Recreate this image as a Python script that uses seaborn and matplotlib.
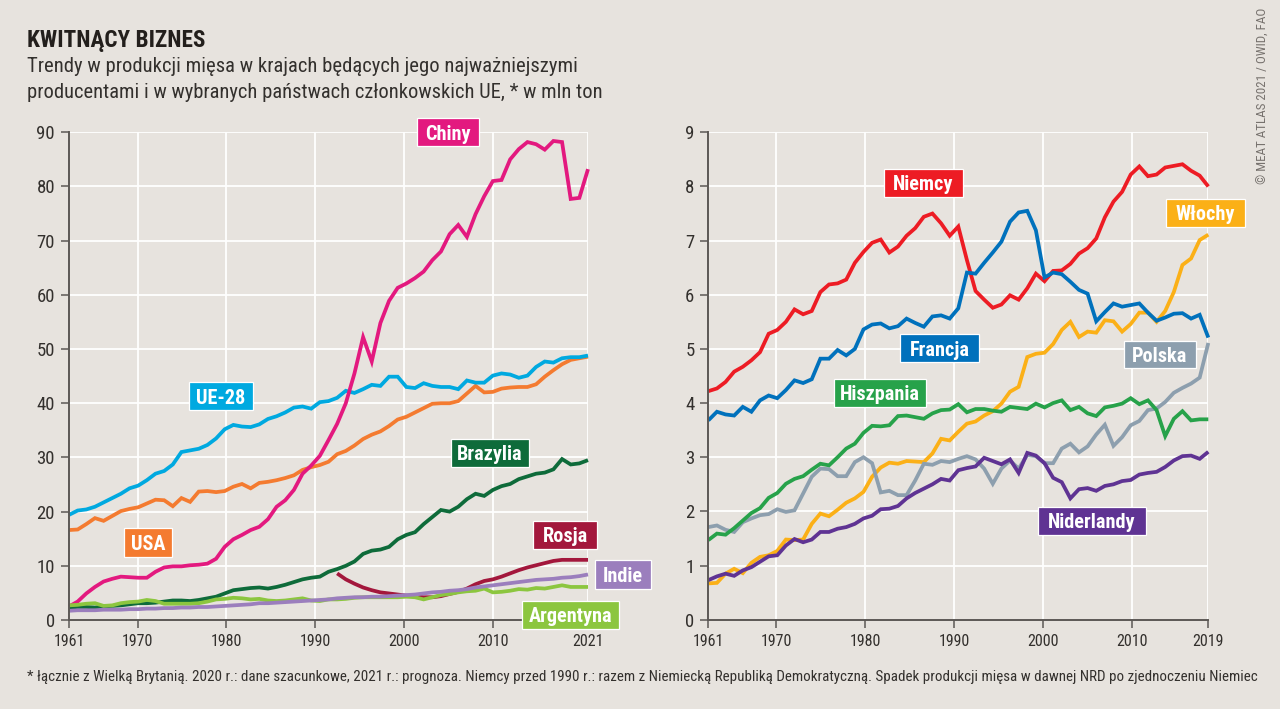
import numpy as np
import pandas as pd
import matplotlib
matplotlib.use("Agg")
import matplotlib.pyplot as plt
from matplotlib.patches import Rectangle
from matplotlib import font_manager as fm
import seaborn as sns

chiny = [2.5,3.4,4.9,6.1,7.1,7.6,8.0,7.9,7.8,7.8,8.9,9.7,9.9,9.9,10.1,10.2,10.4,11.3,13.5,14.9,15.7,16.6,17.2,18.6,20.9,22.1,24.0,27.0,28.5,30.3,33.2,36.2,40.0,45.5,52.2,47.7,54.8,58.9,61.3,62.1,63.1,64.3,66.4,68.0,71.2,72.9,70.7,74.9,78.2,81.0,81.2,85.0,86.9,88.2,87.8,86.8,88.4,88.2,77.7,77.9,83.2]
ue28 = [19.4,20.2,20.4,20.9,21.7,22.5,23.3,24.3,24.8,25.8,27.0,27.5,28.7,31.0,31.3,31.6,32.3,33.5,35.2,36.0,35.7,35.6,36.1,37.1,37.6,38.3,39.2,39.4,39.0,40.2,40.4,41.0,42.3,41.9,42.6,43.4,43.2,44.9,44.9,43.0,42.8,43.7,43.2,43.0,43.0,42.6,44.2,43.8,43.8,45.1,45.5,45.3,44.7,45.1,46.7,47.7,47.5,48.3,48.5,48.5,48.8]
usa = [16.6,16.7,17.7,18.8,18.3,19.2,20.1,20.5,20.8,21.5,22.2,22.1,21.0,22.5,21.8,23.7,23.8,23.6,23.8,24.6,25.1,24.3,25.3,25.5,25.8,26.2,26.7,27.7,28.2,28.6,29.2,30.6,31.2,32.2,33.4,34.2,34.8,35.8,37.0,37.5,38.3,39.1,39.9,40.0,40.0,40.4,41.8,43.2,42.0,42.1,42.7,42.9,43.0,43.0,43.5,44.9,46.1,47.2,48.0,48.3,48.6]
brazylia = [2.3,2.4,2.4,2.3,2.5,2.6,2.7,2.9,3.1,3.1,3.2,3.4,3.6,3.6,3.5,3.7,4.0,4.3,4.9,5.5,5.7,5.9,6.0,5.8,6.1,6.5,7.0,7.5,7.8,8.0,8.9,9.4,10.0,10.8,12.2,12.8,13.0,13.5,14.9,15.7,16.2,17.7,19.0,20.3,20.0,20.9,22.3,23.3,22.9,24.0,24.7,25.1,26.0,26.5,27.0,27.2,27.8,29.7,28.7,28.9,29.5]
rosja = [8.6,7.5,6.7,6.0,5.5,5.1,4.9,4.7,4.5,4.4,4.2,4.2,4.4,4.8,5.2,5.8,6.6,7.2,7.5,8.0,8.6,9.2,9.7,10.1,10.5,10.9,11.1,11.1,11.1,11.1]
indie = [1.7,1.8,1.8,1.8,1.9,1.9,1.9,2.0,2.0,2.1,2.1,2.2,2.2,2.3,2.3,2.4,2.4,2.5,2.6,2.7,2.8,2.9,3.1,3.1,3.2,3.3,3.4,3.5,3.6,3.7,3.8,4.0,4.1,4.2,4.2,4.3,4.3,4.4,4.5,4.6,4.7,4.9,5.1,5.2,5.4,5.5,5.7,6.0,6.2,6.4,6.6,6.8,7.0,7.2,7.4,7.5,7.6,7.8,7.9,8.1,8.4]
argentyna = [2.7,2.8,3.0,3.1,2.6,2.7,3.1,3.3,3.4,3.7,3.5,3.0,3.0,3.0,3.0,3.1,3.4,3.8,3.9,4.1,4.0,3.8,3.9,3.6,3.5,3.6,3.8,4.0,3.6,3.5,3.8,3.8,3.9,4.1,4.2,4.2,4.2,4.2,4.2,4.3,4.2,3.8,4.2,4.6,4.8,5.1,5.3,5.4,5.8,5.1,5.2,5.4,5.7,5.6,5.9,5.8,6.1,6.4,6.1,6.1,6.1]

niemcy = [4.22,4.27,4.39,4.58,4.67,4.79,4.94,5.28,5.35,5.5,5.73,5.64,5.7,6.05,6.19,6.21,6.28,6.59,6.79,6.96,7.02,6.78,6.89,7.09,7.23,7.44,7.5,7.32,7.09,7.26,6.64,6.07,5.91,5.76,5.82,5.99,5.91,6.12,6.39,6.25,6.44,6.45,6.57,6.76,6.86,7.04,7.43,7.72,7.9,8.22,8.37,8.19,8.22,8.35,8.38,8.41,8.29,8.2,8.0]
francja = [3.68,3.84,3.79,3.77,3.93,3.84,4.05,4.14,4.09,4.24,4.42,4.37,4.44,4.82,4.82,4.98,4.88,5.0,5.36,5.45,5.47,5.38,5.42,5.56,5.48,5.41,5.6,5.62,5.56,5.75,6.41,6.39,6.59,6.78,6.98,7.35,7.52,7.55,7.19,6.32,6.41,6.38,6.24,6.09,6.02,5.51,5.68,5.84,5.78,5.81,5.84,5.67,5.52,5.58,5.65,5.66,5.56,5.63,5.21]
wlochy = [0.67,0.68,0.85,0.94,0.86,1.05,1.16,1.19,1.27,1.48,1.47,1.48,1.77,1.96,1.91,2.03,2.16,2.24,2.36,2.64,2.81,2.9,2.88,2.93,2.92,2.91,3.07,3.34,3.31,3.47,3.62,3.66,3.77,3.85,3.99,4.21,4.3,4.85,4.91,4.93,5.09,5.35,5.5,5.22,5.32,5.3,5.53,5.51,5.32,5.46,5.67,5.67,5.5,5.7,6.05,6.55,6.67,7.01,7.11]
polska = [1.71,1.74,1.66,1.62,1.8,1.87,1.93,1.95,2.04,1.99,2.02,2.33,2.64,2.79,2.78,2.65,2.65,2.91,3.0,2.89,2.35,2.38,2.3,2.3,2.57,2.88,2.86,2.93,2.91,2.97,3.02,2.96,2.79,2.51,2.79,2.94,2.79,3.04,3.02,2.89,2.89,3.16,3.25,3.09,3.2,3.42,3.6,3.21,3.37,3.59,3.67,3.87,3.9,4.02,4.19,4.28,4.36,4.47,5.11]
hiszpania = [1.47,1.59,1.57,1.69,1.83,1.97,2.06,2.25,2.34,2.51,2.6,2.65,2.77,2.88,2.85,3.0,3.16,3.25,3.45,3.58,3.57,3.59,3.76,3.77,3.74,3.71,3.81,3.87,3.88,3.98,3.83,3.89,3.89,3.86,3.84,3.93,3.91,3.89,3.99,3.92,4.0,4.05,3.87,3.93,3.81,3.76,3.92,3.95,3.99,4.09,3.98,4.05,3.87,3.39,3.71,3.85,3.68,3.7,3.7]
niderlandy = [0.73,0.8,0.85,0.81,0.91,0.97,1.07,1.17,1.19,1.37,1.49,1.43,1.48,1.62,1.62,1.68,1.71,1.77,1.87,1.92,2.04,2.05,2.1,2.24,2.34,2.42,2.5,2.6,2.57,2.76,2.8,2.83,2.99,2.93,2.87,2.96,2.71,3.08,3.03,2.89,2.62,2.54,2.24,2.41,2.43,2.38,2.47,2.5,2.56,2.58,2.68,2.71,2.73,2.82,2.94,3.02,3.03,2.97,3.1]

left_series = [("USA", usa, 1961, "#f47b30"), ("UE-28", ue28, 1961, "#00a9e0"),
               ("Chiny", chiny, 1961, "#e3197f"), ("Brazylia", brazylia, 1961, "#0e6b3a"),
               ("Rosja", rosja, 1992, "#a3173c"), ("Argentyna", argentyna, 1961, "#8cc63f"),
               ("Indie", indie, 1961, "#9b7ebd")]
right_series = [("Włochy", wlochy, 1961, "#fbb017"), ("Polska", polska, 1961, "#8d9fae"),
                ("Hiszpania", hiszpania, 1961, "#27a24a"), ("Niderlandy", niderlandy, 1961, "#5f3393"),
                ("Niemcy", niemcy, 1961, "#ed1c24"), ("Francja", francja, 1961, "#0071bc")]

left_tick_labels = ["1961", "1970", "1980", "1990", "2000", "2010", "2021"]
right_tick_labels = ["1961", "1970", "1980", "1990", "2000", "2010", "2019"]
left_yticks = [0, 10, 20, 30, 40, 50, 60, 70, 80, 90]
right_yticks = [0, 1, 2, 3, 4, 5, 6, 7, 8, 9]

W, H = 1280, 709
BG = "#e7e3de"
INK = "#33302d"
AXC = "#5c5855"
names = {f.name for f in fm.fontManager.ttflist}
COND = [n for n in ("Roboto Condensed", "Liberation Sans Narrow", "Open Sans Condensed", "Roboto") if n in names]

sns.set_theme(style="white")
plt.rcParams["font.family"] = COND + ["DejaVu Sans"]
fig = plt.figure(figsize=(W / 100, H / 100), dpi=100, facecolor=BG)


def make_axes(x0, x1, y0, y1):
    return fig.add_axes([x0 / W, 1 - y1 / H, (x1 - x0) / W, (y1 - y0) / H], facecolor=BG)


def style(ax, xmin, xmax, ymax, ticks, labels, yticks):
    ax.set_xlim(xmin, xmax)
    ax.set_ylim(0, ymax)
    ax.set_xticks(ticks)
    ax.set_xticklabels(labels)
    ax.set_yticks(yticks)
    ax.set_xlabel("")
    ax.set_ylabel("")
    ax.grid(True, color="white", lw=1.3, zorder=0)
    ax.set_axisbelow(True)
    for s in ("top", "right"):
        ax.spines[s].set_visible(False)
    for s in ("left", "bottom"):
        ax.spines[s].set_color(AXC)
        ax.spines[s].set_linewidth(1.4)
    ax.tick_params(axis="x", colors=INK, labelsize=11.5, length=5.5, width=1.1, color=AXC, pad=4.5, bottom=True)
    ax.tick_params(axis="y", colors=INK, labelsize=13.5, length=5.5, width=1.1, color=AXC, pad=4.5, left=True)


def draw(ax, series):
    for name, vals, start, col in series:
        yrs = np.arange(start, start + len(vals))
        df = pd.DataFrame({"rok": yrs, "mln_ton": vals})
        sns.lineplot(data=df, x="rok", y="mln_ton", color=col, lw=2.7, ax=ax, legend=False,
                     errorbar=None, estimator=None, solid_joinstyle="miter", solid_capstyle="butt", clip_on=False)


axL = make_axes(69, 588, 132.3, 620)
draw(axL, left_series)
style(axL, 1961, 2021, 90, [1961, 1968.95, 1979.17, 1989.47, 1999.77, 2010.03, 2021], left_tick_labels, left_yticks)

axR = make_axes(708.3, 1208.3, 132.3, 619.7)
draw(axR, right_series)
style(axR, 1961, 2019, 9, [1961, 1968.89, 1979.18, 1989.5, 1999.82, 2010.1, 2019], right_tick_labels, right_yticks)

boxes = [("Chiny", 417, 479, 118, 146, "#e3197f"), ("UE-28", 189, 253, 382, 410, "#00a9e0"),
         ("USA", 124, 172, 528, 557, "#f47b30"), ("Brazylia", 451, 529, 439, 467, "#0e6b3a"),
         ("Rosja", 533, 597, 521, 549, "#a3173c"), ("Indie", 595, 651, 560, 589, "#9b7ebd"),
         ("Argentyna", 522, 619, 601, 629, "#8cc63f"),
         ("Niemcy", 884, 963, 169, 197, "#ed1c24"), ("Włochy", 1166, 1245, 199, 227, "#fbb017"),
         ("Francja", 900, 979, 334, 362, "#0071bc"), ("Polska", 1124, 1196, 341, 368, "#8d9fae"),
         ("Hiszpania", 834, 926, 379, 407, "#27a24a"), ("Niderlandy", 1038, 1146, 507, 535, "#5f3393")]
for txt, x0, x1, y0, y1, col in boxes:
    fig.add_artist(Rectangle((x0 / W, 1 - y1 / H), (x1 - x0) / W, (y1 - y0) / H, transform=fig.transFigure,
                             fc=col, ec="white", lw=0.9, zorder=5))
    fig.text((x0 + x1) / 2 / W, 1 - (y0 + y1) / 2 / H, txt, color="white", fontsize=14.6, fontweight="bold",
             ha="center", va="center_baseline", zorder=6)

fig.text(27 / W, 1 - 40.5 / H, "KWITNĄCY BIZNES", fontsize=16.7, fontweight="bold", color="#231f1c", va="center")
fig.text(27 / W, 1 - 66.5 / H, "Trendy w produkcji mięsa w krajach będących jego najważniejszymi", fontsize=14.9, color=INK, va="center")
fig.text(27 / W, 1 - 92.5 / H, "producentami i w wybranych państwach członkowskich UE, * w mln ton", fontsize=14.8, color=INK, va="center")
fig.text(27 / W, 1 - 677 / H,
         "* łącznie z Wielką Brytanią. 2020 r.: dane szacunkowe, 2021 r.: prognoza. Niemcy przed 1990 r.: razem z Niemiecką Republiką Demokratyczną. Spadek produkcji mięsa w dawnej NRD po zjednoczeniu Niemiec",
         fontsize=10.8, color=INK, va="center")
fig.text(1263 / W, 1 - 96 / H, "© MEAT ATLAS 2021 / OWID, FAO", fontsize=9.4, color="#77726e", rotation=90, ha="center", va="center")

fig.savefig("out.png", dpi=100, facecolor=BG)
